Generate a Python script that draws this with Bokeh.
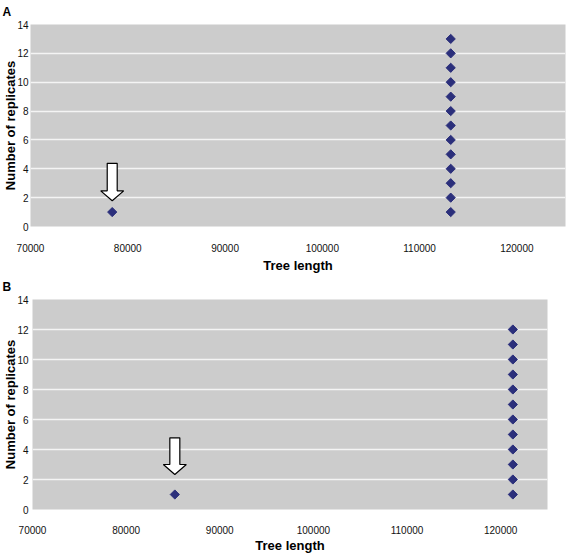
import numpy as np
from bokeh.plotting import figure
from bokeh.models import FixedTicker, Range1d
from bokeh.embed import file_html
from bokeh.resources import INLINE

# ---- data ----
x_ticks = [70000, 80000, 90000, 100000, 110000, 120000]
x_tick_labels = ["70000", "80000", "90000", "100000", "110000", "120000"]
y_ticks = [0, 2, 4, 6, 8, 10, 12, 14]
y_tick_labels = ["0", "2", "4", "6", "8", "10", "12", "14"]

a_tree_length = [78400, 113200, 113200, 113200, 113200, 113200, 113200, 113200,
                 113200, 113200, 113200, 113200, 113200, 113200]
a_replicates = [1, 1, 2, 3, 4, 5, 6, 7, 8, 9, 10, 11, 12, 13]

b_tree_length = [85200, 121300, 121300, 121300, 121300, 121300, 121300, 121300,
                 121300, 121300, 121300, 121300, 121300]
b_replicates = [1, 1, 2, 3, 4, 5, 6, 7, 8, 9, 10, 11, 12]

# arrow: x of outlier, y of (top, head base, tip)
a_arrow_x = 78400
a_arrow_y = [4.38, 2.47, 1.79]
b_arrow_x = 85200
b_arrow_y = [4.78, 3.0, 2.33]

panel_labels = ["A", "B"]
x_title = "Tree length"
y_title = "Number of replicates"

FONT = "Liberation Sans"
MARKER = "#2B2F7B"


def make_panel(name, xs, ys, arrow_x, arrow_y, width, height, left, right, top, bottom,
               ytick_standoff, ytitle_standoff, xtick_standoff, xtitle_standoff,
               title_offset):
    p = figure(width=width, height=height, output_backend="svg", toolbar_location=None,
               x_range=Range1d(70000, 125000), y_range=Range1d(0, 14),
               min_border_left=left, min_border_right=right,
               min_border_top=top, min_border_bottom=bottom,
               title=name)
    p.title.text_font = FONT
    p.title.text_font_size = "12px"
    p.title.text_font_style = "bold"
    p.title.text_color = "black"
    p.title.align = "left"
    p.title.vertical_align = "top"
    p.title.offset = title_offset
    p.title.standoff = 7

    p.background_fill_color = "#CCCCCC"
    p.border_fill_color = "white"
    p.outline_line_color = None
    p.xgrid.grid_line_color = None
    p.ygrid.grid_line_color = "#F4F4F4"
    p.ygrid.grid_line_width = 1.5
    p.ygrid.ticker = FixedTicker(ticks=y_ticks)

    for ax in (p.xaxis[0], p.yaxis[0]):
        ax.axis_line_color = None
        ax.major_tick_line_color = None
        ax.minor_tick_line_color = None
        ax.major_tick_out = 0
        ax.minor_tick_out = 0
        ax.major_label_text_font = FONT
        ax.major_label_text_font_size = "10px"
        ax.major_label_text_color = "#111111"
        ax.axis_label_text_font = FONT
        ax.axis_label_text_font_size = "13px"
        ax.axis_label_text_font_style = "bold"
        ax.axis_label_text_color = "black"

    p.xaxis.ticker = FixedTicker(ticks=x_ticks)
    p.xaxis.major_label_overrides = {t: l for t, l in zip(x_ticks, x_tick_labels)}
    p.xaxis.major_label_standoff = xtick_standoff
    p.xaxis.axis_label = x_title
    p.xaxis.axis_label_standoff = xtitle_standoff

    p.yaxis.ticker = FixedTicker(ticks=y_ticks)
    p.yaxis.major_label_overrides = {t: l for t, l in zip(y_ticks, y_tick_labels)}
    p.yaxis.major_label_standoff = ytick_standoff
    p.yaxis.axis_label = y_title
    p.yaxis.axis_label_standoff = ytitle_standoff
    p.yaxis.axis_label_text_line_height = 1.0

    # arrow (pixel-shaped, anchored on the outlier)
    fw = width - left - right
    dx = (125000 - 70000) / fw
    shaft, head = 5 * dx, 11.5 * dx
    top_y, base_y, tip_y = arrow_y
    ax_ = [arrow_x - shaft, arrow_x + shaft, arrow_x + shaft, arrow_x + head,
           arrow_x, arrow_x - head, arrow_x - shaft]
    ay_ = [top_y, top_y, base_y, base_y, tip_y, base_y, base_y]
    p.patch(ax_, ay_, fill_color="white", line_color="black", line_width=1.2)

    p.scatter(xs, ys, marker="square", angle=np.pi / 4, size=6.5,
              fill_color=MARKER, line_color=MARKER)
    return p


pa = make_panel(panel_labels[0], a_tree_length, a_replicates, a_arrow_x, a_arrow_y,
                566, 275, 29, 1, 24, 47, 2, -4, 17, 3, -28)
pb = make_panel(panel_labels[1], b_tree_length, b_replicates, b_arrow_x, b_arrow_y,
                566, 280, 32, 19, 24, 44, 4, -4, 16, 1, -30)

open("out.html", "w").write(file_html([pa, pb], INLINE))
